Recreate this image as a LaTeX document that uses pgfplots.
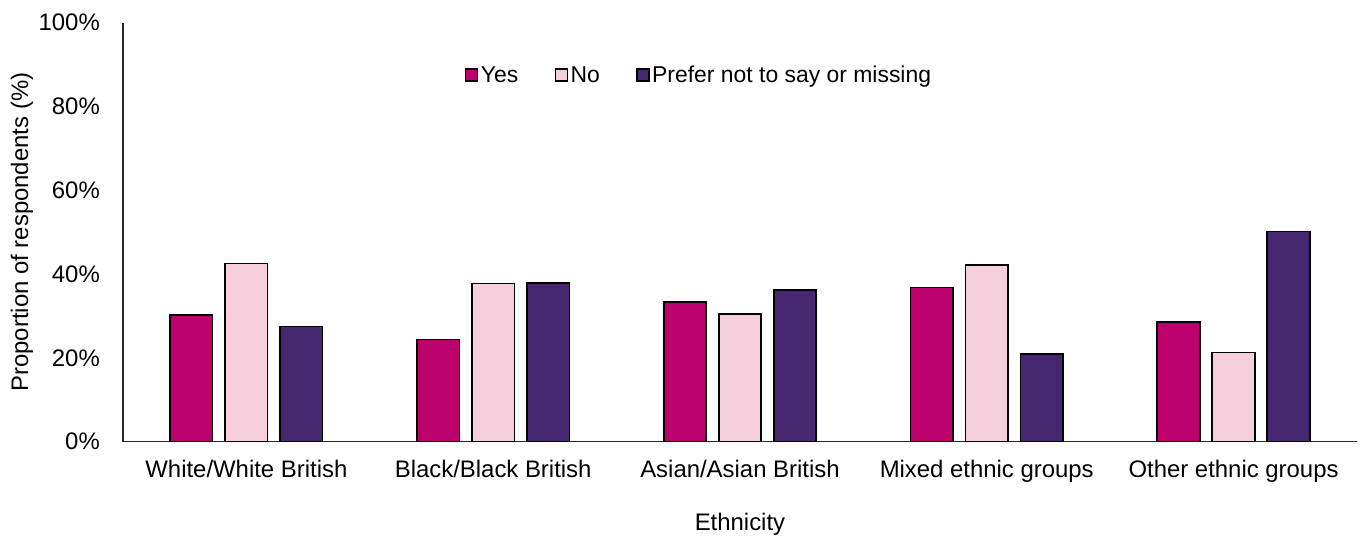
\documentclass[border=0pt]{standalone}
\usepackage{pgfplots}
\pgfplotsset{compat=1.18}
\usepackage{fontspec}
\setmainfont{Liberation Sans}
\definecolor{cyes}{RGB}{188,0,108}
\definecolor{cno}{RGB}{245,208,220}
\definecolor{cpref}{RGB}{71,40,112}
\begin{document}
\begin{tikzpicture}
\path[use as bounding box] (-123bp,-95.3bp) rectangle (1238bp,441.7bp);
\begin{axis}[
  at={(0,0)}, anchor=south west,
  scale only axis, width=1234bp, height=419bp,
  xmin=-0.5, xmax=4.5, ymin=0, ymax=100,
  ybar=12.5bp, bar width=42.5bp,
  axis x line=bottom, axis y line=left,
  axis line style={line width=1.2bp, -, black!85},
  xtick={0,1,2,3,4},
  xticklabels={White/White British, Black/Black British, Asian/Asian British, Mixed ethnic groups, Other ethnic groups},
  ytick={0,20,40,60,80,100},
  yticklabels={0\%,20\%,40\%,60\%,80\%,100\%},
  major tick length=0pt,
  tick label style={font=\fontsize{24}{28}\selectfont},
  xticklabel style={anchor=base, inner sep=0pt, yshift=-36bp},
  yticklabel style={anchor=east, inner sep=0pt, xshift=-23bp},
  xlabel={Ethnicity},
  ylabel={Proportion of respondents (\%)},
  label style={font=\fontsize{24}{28}\selectfont},
  xlabel style={at={(axis description cs:0.5,-0.196)}, anchor=center},
  ylabel style={at={(axis description cs:-0.0818,0.5)}, anchor=center},
  legend style={at={(axis description cs:0.2771,0.875)}, anchor=west, draw=none, inner sep=0pt,
    font=\fontsize{23}{27}\selectfont, legend columns=-1,
    /tikz/every even column/.append style={column sep=34bp},
    nodes={inner sep=2.5bp}},
  legend image code/.code={\draw[#1, draw=black, line width=1.3bp] (0bp,-6bp) rectangle (12bp,6bp);},
  every axis plot/.append style={draw=black, line width=1.6bp},
]
\addplot[fill=cyes] coordinates {(0,30.3) (1,24.4) (2,33.3) (3,36.8) (4,28.6)};
\addplot[fill=cno] coordinates {(0,42.5) (1,37.8) (2,30.5) (3,42.2) (4,21.3)};
\addplot[fill=cpref] coordinates {(0,27.5) (1,37.9) (2,36.2) (3,21.0) (4,50.2)};
\legend{Yes, No, Prefer not to say or missing}
\end{axis}
\end{tikzpicture}
\end{document}
